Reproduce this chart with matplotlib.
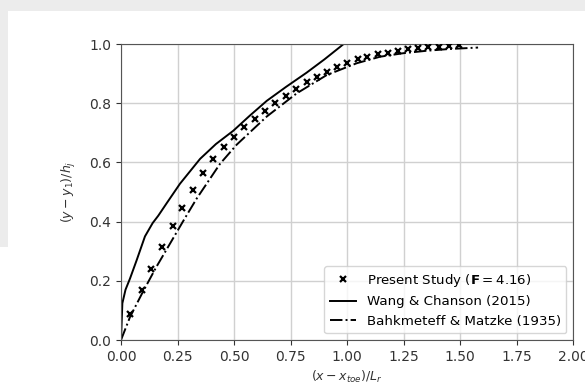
import matplotlib
matplotlib.use("Agg")
import matplotlib.pyplot as plt
from matplotlib.patches import Rectangle

# Present study (crosses)
study_x = [0.040, 0.094, 0.131, 0.180, 0.230, 0.272, 0.320, 0.361, 0.409, 0.456,
           0.500, 0.546, 0.593, 0.637, 0.681, 0.729, 0.774, 0.821, 0.866, 0.910,
           0.954, 0.999, 1.047, 1.090, 1.136, 1.180, 1.225, 1.270, 1.315, 1.360,
           1.405, 1.450, 1.495]
study_y = [0.087, 0.168, 0.241, 0.314, 0.386, 0.447, 0.508, 0.563, 0.612, 0.651,
           0.687, 0.718, 0.746, 0.772, 0.799, 0.825, 0.847, 0.870, 0.887, 0.907,
           0.923, 0.937, 0.948, 0.956, 0.965, 0.971, 0.977, 0.982, 0.986, 0.989,
           0.991, 0.993, 0.995]

# Wang & Chanson (2015)
wc_x = [0.000, 0.006, 0.020, 0.040, 0.069, 0.106, 0.140, 0.165, 0.202, 0.261,
        0.350, 0.420, 0.497, 0.570, 0.645, 0.730, 0.821, 0.900, 0.969, 0.985]
wc_y = [0.000, 0.124, 0.170, 0.208, 0.269, 0.350, 0.395, 0.420, 0.462, 0.528,
        0.612, 0.662, 0.707, 0.758, 0.808, 0.855, 0.903, 0.948, 0.990, 1.000]

# Bahkmeteff & Matzke (1935)
bm_x = [0.000, 0.040, 0.095, 0.155, 0.221, 0.280, 0.335, 0.438, 0.512,
        0.645, 0.777, 0.910, 1.043, 1.146, 1.250, 1.350, 1.450, 1.580]
bm_y = [0.000, 0.078, 0.160, 0.245, 0.331, 0.408, 0.478, 0.595, 0.660,
        0.755, 0.833, 0.895, 0.935, 0.957, 0.969, 0.977, 0.983, 0.988]

xticks = [0.00, 0.25, 0.50, 0.75, 1.00, 1.25, 1.50, 1.75, 2.00]
yticks = [0.0, 0.2, 0.4, 0.6, 0.8, 1.0]

fig = plt.figure(figsize=(5.85, 3.85), dpi=100)
fig.patch.set_facecolor("white")
grey = "#ececec"
fig.add_artist(Rectangle((0, 1 - 11 / 385), 1, 11 / 385, transform=fig.transFigure,
                         facecolor=grey, edgecolor="none", zorder=-10))
fig.add_artist(Rectangle((0, 1 - 247 / 385), 8 / 585, 247 / 385, transform=fig.transFigure,
                         facecolor=grey, edgecolor="none", zorder=-10))

ax = fig.add_axes([121 / 585, 1 - 340 / 385, (573 - 121) / 585, (340 - 44) / 385])
ax.set_facecolor("none")

ax.plot(study_x, study_y, linestyle="none", marker="x", color="black",
        markersize=5, markeredgewidth=1.6, label=r"Present Study ($\mathbf{F} = 4.16$)", zorder=3)
ax.plot(wc_x, wc_y, "-", color="black", linewidth=1.4, label="Wang & Chanson (2015)")
ax.plot(bm_x, bm_y, "-.", color="black", linewidth=1.4, label="Bahkmeteff & Matzke (1935)")

ax.set_xlim(0, 2)
ax.set_ylim(0, 1)
ax.set_xticks(xticks)
ax.set_yticks(yticks)
ax.set_xticklabels([f"{v:.2f}" for v in xticks])
ax.set_yticklabels([f"{v:.1f}" for v in yticks])
ax.grid(True, color="#d0d0d0", linewidth=1.0)
ax.set_axisbelow(True)
for s in ax.spines.values():
    s.set_color("#555555")
ax.tick_params(colors="#333333", labelcolor="#333333")

ax.set_xlabel(r"$(x - x_{toe})/L_r$", fontsize=9, color="#333333", labelpad=4)
ax.set_ylabel(r"$(y - y_1)/h_j$", fontsize=9, color="#333333", labelpad=8)

ax.legend(loc="lower right", fontsize=9.6, framealpha=0.8)

fig.savefig("out.png", dpi=100)
